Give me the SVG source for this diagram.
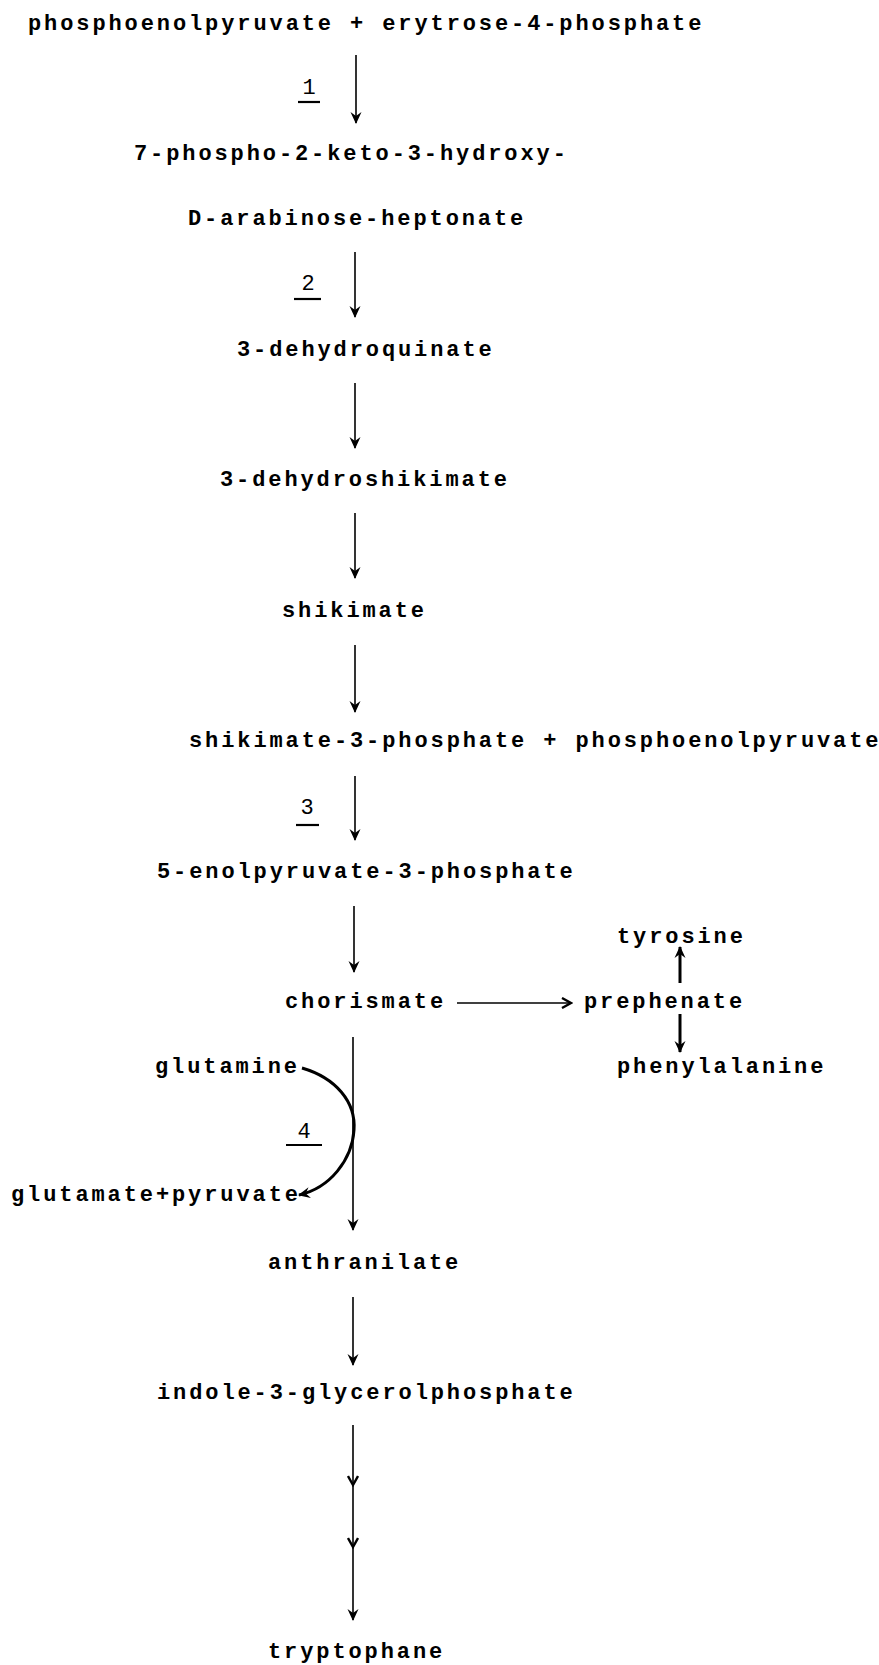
<svg xmlns="http://www.w3.org/2000/svg" width="879" height="1665" viewBox="0 0 879 1665">
<style>
text{font-family:"Liberation Mono","DejaVu Sans Mono",monospace;font-size:22px;font-weight:bold;letter-spacing:2.9px;fill:#000}
.lab{text-anchor:middle;letter-spacing:0;font-weight:normal}
.ln{stroke:#000;stroke-width:1.6;fill:none}
.bold{stroke:#000;stroke-width:3;fill:none}
.ul{stroke:#000;stroke-width:2.2}
</style>
<defs>
<marker id="ah" viewBox="0 0 12 12" refX="11" refY="6" markerWidth="12" markerHeight="12" markerUnits="userSpaceOnUse" orient="auto">
<path d="M0,0.5 L12,6 L0,11.5 L4,6 z" fill="#000"/>
</marker>
<marker id="chev" viewBox="0 0 12 12" refX="10" refY="6" markerWidth="12" markerHeight="12" markerUnits="userSpaceOnUse" orient="auto">
<path d="M1,1 L10,6 L1,11" fill="none" stroke="#000" stroke-width="2.4"/>
</marker>
</defs>
<g id="n1"><text x="28" y="30">phosphoenolpyruvate + erytrose-4-phosphate</text></g>
<g id="n2"><text x="134" y="160">7-phospho-2-keto-3-hydroxy-</text><text x="188" y="225">D-arabinose-heptonate</text></g>
<g id="n3"><text x="237" y="356">3-dehydroquinate</text></g>
<g id="n4"><text x="220" y="486">3-dehydroshikimate</text></g>
<g id="n5"><text x="282" y="617">shikimate</text></g>
<g id="n6"><text x="189" y="747">shikimate-3-phosphate + phosphoenolpyruvate</text></g>
<g id="n7"><text x="157" y="878">5-enolpyruvate-3-phosphate</text></g>
<g id="n8"><text x="285" y="1008">chorismate</text></g>
<g id="n9"><text x="584" y="1008">prephenate</text></g>
<g id="n10"><text x="617" y="943">tyrosine</text></g>
<g id="n11"><text x="617" y="1073">phenylalanine</text></g>
<g id="n12"><text x="155" y="1073">glutamine</text></g>
<g id="n13"><text x="11" y="1201">glutamate+pyruvate</text></g>
<g id="n14"><text x="268" y="1269">anthranilate</text></g>
<g id="n15"><text x="157" y="1399">indole-3-glycerolphosphate</text></g>
<g id="n16"><text x="268" y="1658">tryptophane</text></g>
<g id="labels">
<text class="lab" x="309" y="94">1</text><line class="ul" x1="298" y1="102" x2="320" y2="102"/>
<text class="lab" x="308" y="290">2</text><line class="ul" x1="294" y1="299" x2="321" y2="299"/>
<text class="lab" x="307" y="814">3</text><line class="ul" x1="296" y1="825" x2="319" y2="825"/>
<text class="lab" x="304" y="1138">4</text><line class="ul" x1="286" y1="1145" x2="322" y2="1145"/>
</g>
<g id="connectors">
<line class="ln" x1="356" y1="55" x2="356" y2="123" marker-end="url(#ah)"/>
<line class="ln" x1="355" y1="252" x2="355" y2="317" marker-end="url(#ah)"/>
<line class="ln" x1="355" y1="383" x2="355" y2="448" marker-end="url(#ah)"/>
<line class="ln" x1="355" y1="513" x2="355" y2="578" marker-end="url(#ah)"/>
<line class="ln" x1="355" y1="645" x2="355" y2="712" marker-end="url(#ah)"/>
<line class="ln" x1="355" y1="776" x2="355" y2="840" marker-end="url(#ah)"/>
<line class="ln" x1="354" y1="906" x2="354" y2="972" marker-end="url(#ah)"/>
<line class="ln" x1="457" y1="1003" x2="571" y2="1003" stroke-width="2.2" marker-end="url(#chev)"/>
<line class="bold" x1="680" y1="983" x2="680" y2="947" marker-end="url(#ah)"/>
<line class="bold" x1="680" y1="1014" x2="680" y2="1052" marker-end="url(#ah)"/>
<line class="ln" x1="353" y1="1037" x2="353" y2="1230" marker-end="url(#ah)"/>
<path class="bold" d="M302,1068 C336,1078 356,1102 354,1130 C352,1160 330,1188 299,1195" marker-end="url(#ah)"/>
<line class="ln" x1="353" y1="1297" x2="353" y2="1365" marker-end="url(#ah)"/>
<line class="ln" x1="353" y1="1425" x2="353" y2="1485" stroke-width="2.2" marker-end="url(#chev)"/>
<line class="ln" x1="353" y1="1485" x2="353" y2="1547" stroke-width="2.8" marker-end="url(#chev)"/>
<line class="ln" x1="353" y1="1547" x2="353" y2="1620" stroke-width="2.8" marker-end="url(#ah)"/>
</g>
</svg>
